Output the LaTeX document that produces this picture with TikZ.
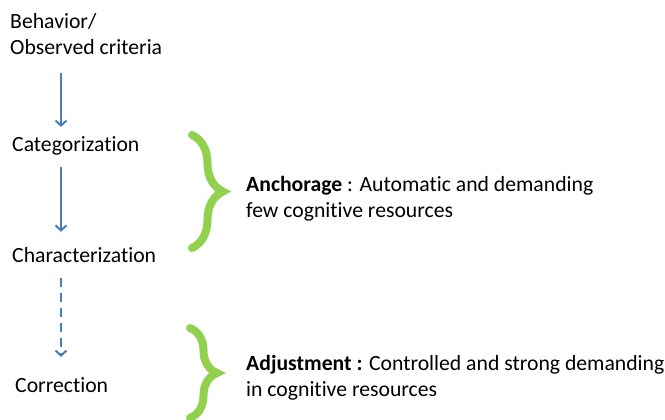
\documentclass[tikz,border=0pt]{standalone}
\usepackage{fontspec}
\setmainfont{Carlito}[Ligatures={NoCommon}]
\usetikzlibrary{arrows.meta}
\usetikzlibrary{decorations.pathreplacing}
\usetikzlibrary{positioning}
\definecolor{flowblue}{HTML}{4A7EBB}
\definecolor{bracegreen}{HTML}{92D050}

\begin{document}
\begin{tikzpicture}[
	x=1pt, y=1pt,
	every node/.style={inner sep=0pt, anchor=base west, font=\fontsize{21.7}{26}\selectfont},
  > = {Straight Barb[length=5pt,width=11pt]},
  flow/.style = {draw=flowblue, line width=2pt, ->},
  flowdash/.style = {flow, dash pattern=on 9pt off 6pt},
  curly/.style = {draw=bracegreen, line width=8pt, line cap=round, decorate, decoration={brace, amplitude=#1}}
  ]
	\useasboundingbox (0,0) rectangle (665,-420);

	\node[align=left] (obs) at (10,-55) {Behavior/\\Observed criteria};
	\node (cat) at (12,-152) {Categorization};
	\node (char) at (12,-262) {Characterization};
	\node (corr) at (15,-392) {Correction};

	\coordinate (axis) at (61,0);

	\draw[flow, shorten <=18pt, shorten >=10pt] (obs.south -| axis) -- (cat.north -| axis);
	\draw[flow, shorten <=11pt, shorten >=15pt] (cat.south -| axis) -- (char.north -| axis);
	\draw[flowdash, shorten <=16pt, shorten >=20pt] (char.south -| axis) -- (corr.north -| axis);

	% braces
	\draw[curly=31pt] (192,-135) -- (192,-248);
	\draw[curly=27pt] (190,-328) -- (190,-418);

	\node[align=left] (anch) at (246,-217) {\textbf{Anchorage} : Automatic and demanding\\few cognitive resources};
	\node[align=left] (adj) at (246,-396) {\textbf{Adjustment :} Controlled and strong demanding\\in cognitive resources};

\end{tikzpicture}
\end{document}
